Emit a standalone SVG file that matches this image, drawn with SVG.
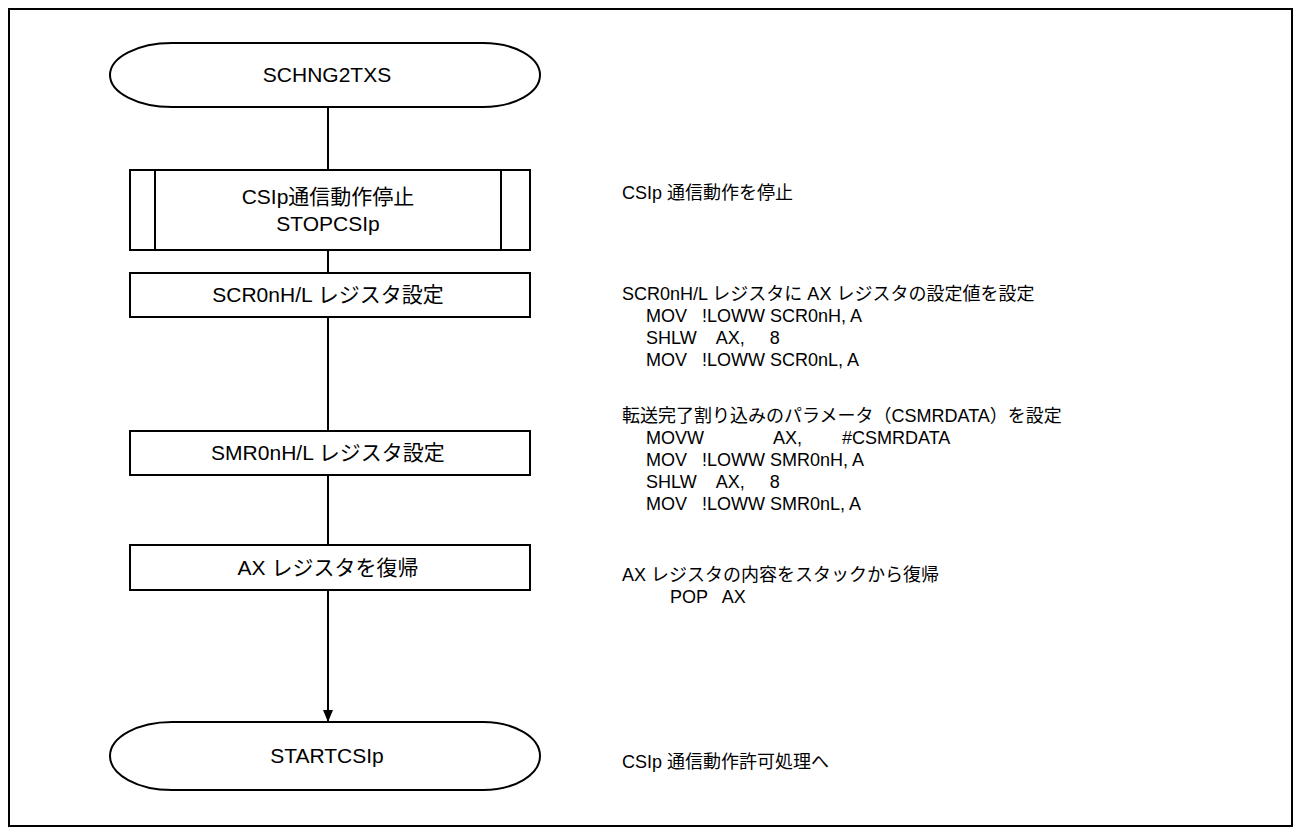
<svg xmlns="http://www.w3.org/2000/svg" width="1301" height="834" viewBox="0 0 1301 834">
<defs>
<style>
.s{fill:#fff;stroke:#000;stroke-width:2}
.l{fill:none;stroke:#000;stroke-width:2}
.t{font-family:"Liberation Sans","Noto Sans CJK JP",sans-serif;font-size:18px;fill:#000}
.b{font-family:"Liberation Sans","Noto Sans CJK JP",sans-serif;font-size:21px;fill:#000;text-anchor:middle}
</style>
<marker id="ah" markerWidth="12" markerHeight="10" refX="12" refY="5" orient="auto" markerUnits="userSpaceOnUse" viewBox="0 0 12 10">
<path d="M0,0 L12,5 L0,10 Z" fill="#000"/>
</marker>
</defs>
<rect x="9" y="9" width="1283" height="817" fill="#fff" stroke="#000" stroke-width="2"/>
<g id="connectors">
<line class="l" x1="328" y1="107" x2="328" y2="170"/>
<line class="l" x1="328" y1="250" x2="328" y2="273"/>
<line class="l" x1="328" y1="317" x2="328" y2="431"/>
<line class="l" x1="328" y1="475" x2="328" y2="545"/>
<line class="l" x1="328" y1="590" x2="328" y2="722" marker-end="url(#ah)"/>
</g>
<g id="start">
<path class="s" d="M172,43 H483 A57,32 0 0 1 483,107 H172 A62,32 0 0 1 172,43 Z"/>
<text class="b" x="327" y="82">SCHNG2TXS</text>
</g>
<g id="stopcsip">
<rect class="s" x="130" y="170" width="400" height="80"/>
<line class="l" x1="155" y1="170" x2="155" y2="250"/>
<line class="l" x1="501" y1="170" x2="501" y2="250"/>
<text class="b" x="328" y="204">CSIp通信動作停止</text>
<text class="b" x="328" y="231">STOPCSIp</text>
</g>
<g id="scr">
<rect class="s" x="130" y="273" width="400" height="44"/>
<text class="b" x="328" y="302">SCR0nH/L レジスタ設定</text>
</g>
<g id="smr">
<rect class="s" x="130" y="431" width="400" height="44"/>
<text class="b" x="328" y="460">SMR0nH/L レジスタ設定</text>
</g>
<g id="ax">
<rect class="s" x="130" y="545" width="400" height="45"/>
<text class="b" x="328" y="575">AX レジスタを復帰</text>
</g>
<g id="end">
<path class="s" d="M172,722 H483 A57,34 0 0 1 483,790 H172 A62,34 0 0 1 172,722 Z"/>
<text class="b" x="327" y="763">STARTCSIp</text>
</g>
<g id="notes">
<text class="t" x="622" y="199">CSIp 通信動作を停止</text>
<text class="t" x="622" y="300">SCR0nH/L レジスタに AX レジスタの設定値を設定</text>
<text class="t" x="646" y="322" xml:space="preserve">MOV   !LOWW SCR0nH, A</text>
<text class="t" x="646" y="344" xml:space="preserve">SHLW    AX,     8</text>
<text class="t" x="646" y="366" xml:space="preserve">MOV   !LOWW SCR0nL, A</text>
<text class="t" x="622" y="422">転送完了割り込みのパラメータ（CSMRDATA）を設定</text>
<text class="t" x="646" y="444" xml:space="preserve">MOVW              AX,        #CSMRDATA</text>
<text class="t" x="646" y="466" xml:space="preserve">MOV   !LOWW SMR0nH, A</text>
<text class="t" x="646" y="488" xml:space="preserve">SHLW    AX,     8</text>
<text class="t" x="646" y="510" xml:space="preserve">MOV   !LOWW SMR0nL, A</text>
<text class="t" x="622" y="581">AX レジスタの内容をスタックから復帰</text>
<text class="t" x="670" y="603" xml:space="preserve">POP   AX</text>
<text class="t" x="622" y="768">CSIp 通信動作許可処理へ</text>
</g>
</svg>
